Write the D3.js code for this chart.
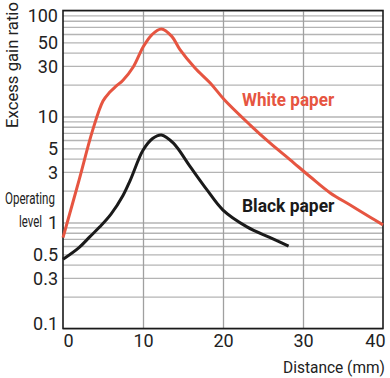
<!DOCTYPE html>
<html>
<head>
<meta charset="utf-8">
<script src="https://cdn.jsdelivr.net/npm/d3@7"></script>
<style>
  body { margin: 0; background: #fff; }
  svg text { fill: #222; }
</style>
</head>
<body>
<div id="chart"></div>
<script>
// values (distance in mm, excess gain ratio)
var whiteX = [0, 2, 3.7, 5, 5.8, 6.6, 7.5, 8.8, 10, 11.1, 12.3, 13.6, 14.6, 16.5, 18.4, 20.2, 23.4, 25.9, 28.4, 30.9, 33.4, 35.9, 38.4, 40];
var whiteY = [0.72, 2.5, 7.4, 14, 16.8, 19.2, 22, 29.5, 45, 59, 67, 57, 43, 28.7, 20.7, 14.3, 8.3, 5.6, 3.9, 2.7, 1.9, 1.46, 1.12, 0.95];
var blackX = [0, 2, 3.4, 4.6, 6, 7.5, 8.4, 10, 11.2, 12.3, 13.8, 15.9, 18, 20, 23, 25.9, 28.2];
var blackY = [0.45, 0.58, 0.74, 0.91, 1.2, 1.8, 2.5, 4.8, 6.2, 6.7, 5.6, 3.36, 2.03, 1.31, 0.91, 0.72, 0.6];
var xTicks = [0, 10, 20, 30, 40];
var yTicks = [0.1, 0.3, 0.5, 1, 3, 5, 10, 30, 50, 100];

var width = 390,
    height = 378,
    pl = 63, pr = 383, pt = 10.5, pb = 328.5,
    red = "#e65541",
    font = "Roboto, 'Liberation Sans', sans-serif";

var svg = d3.select('#chart').append('svg')
    .attr('width', width).attr('height', height);

var x = d3.scaleLinear().domain([0, 40]).range([pl, pr]);
var y = d3.scaleLog().domain([0.1, 100]).range([pb, pt]);

// horizontal grid: every 1..9 step of each decade
svg.append('g')
    .attr('transform', 'translate(' + pl + ',0)')
    .call(d3.axisLeft(y).ticks(30).tickSize(-(pr - pl)).tickFormat(''))
    .call(function(g) {
        g.select('.domain').remove();
        g.selectAll('line').attr('stroke', '#b4b4b4').attr('stroke-width', 1.3);
    });

// vertical grid
svg.append('g')
    .attr('transform', 'translate(0,' + pb + ')')
    .call(d3.axisBottom(x).tickValues([10, 20, 30]).tickSize(-(pb - pt)).tickFormat(''))
    .call(function(g) {
        g.select('.domain').remove();
        g.selectAll('line').attr('stroke', '#a0a0a0').attr('stroke-width', 1.3);
    });

// frame
svg.append('rect')
    .attr('x', pl).attr('y', pt)
    .attr('width', pr - pl).attr('height', pb - pt)
    .attr('fill', 'none').attr('stroke', '#1a1a1a').attr('stroke-width', 1.6);

// y labels
var yAxis = svg.append('g')
    .attr('transform', 'translate(' + pl + ',0)')
    .call(d3.axisLeft(y).tickValues(yTicks).tickSize(0).tickPadding(5).tickFormat(d3.format('~g')));
yAxis.select('.domain').remove();
yAxis.selectAll('text')
    .style('font-family', font).style('font-size', '18px').attr('fill', '#222')
    .attr('dy', function(d) { return d === 100 ? '0.6em' : d === 0.1 ? '0.05em' : '0.35em'; });

// x labels
var xAxis = svg.append('g')
    .attr('transform', 'translate(0,' + pb + ')')
    .call(d3.axisBottom(x).tickValues(xTicks).tickSize(0).tickPadding(6));
xAxis.select('.domain').remove();
xAxis.selectAll('text')
    .style('font-family', font).style('font-size', '18px').attr('fill', '#222')
    .attr('text-anchor', function(d) { return d === 0 ? 'start' : d === 40 ? 'end' : 'middle'; })
    .attr('dx', function(d) { return d === 40 ? 2 : 0; });

// narrow labels: squeeze the text horizontally to the width seen in the picture
function label(tx, ty, txt, len, size, rot) {
    var t = svg.append('text')
        .attr('text-anchor', rot ? 'middle' : 'start')
        .style('font-family', font).style('font-size', size + 'px')
        .text(txt);
    var sx = len / t.node().getComputedTextLength();
    t.attr('transform', 'translate(' + tx + ',' + ty + ')' + (rot ? ' rotate(-90)' : '') + ' scale(' + sx + ',1)');
    return t;
}

label(18, 65, 'Excess gain ratio', 126, 16, true);
label(283, 373, 'Distance (mm)', 102, 16);
label(5, 204, 'Operating', 50, 16.5);
label(19, 227, 'level', 23, 16.5);

// curves
var line = d3.line()
    .x(function(d) { return x(d[0]); })
    .y(function(d) { return y(d[1]); })
    .curve(d3.curveCatmullRom.alpha(0.5));

svg.append('path')
    .datum(d3.zip(whiteX, whiteY))
    .attr('d', line)
    .attr('fill', 'none').attr('stroke', red).attr('stroke-width', 3)
    .attr('stroke-linejoin', 'round');

svg.append('path')
    .datum(d3.zip(blackX, blackY))
    .attr('d', line)
    .attr('fill', 'none').attr('stroke', '#1a1a1a').attr('stroke-width', 3)
    .attr('stroke-linejoin', 'round');

label(242, 106, 'White paper', 91, 18)
    .style('font-weight', 'bold').style('fill', red);
label(242, 212, 'Black paper', 91, 18)
    .style('font-weight', 'bold').style('fill', '#1a1a1a');
</script>
</body>
</html>
